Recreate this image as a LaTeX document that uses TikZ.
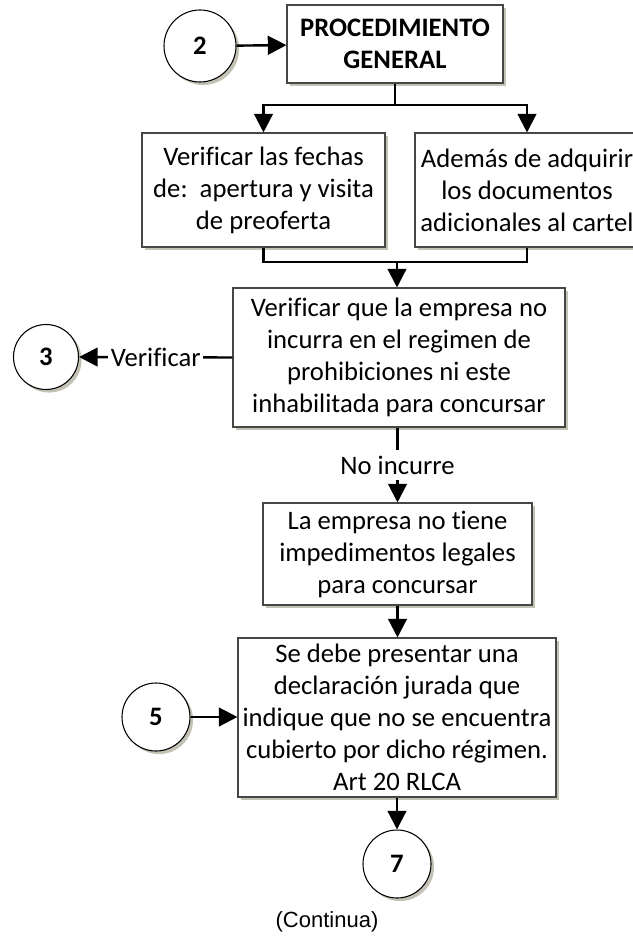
\documentclass[tikz,border=0pt]{standalone}
\usepackage{fontspec}
\setmainfont{Carlito}[Ligatures=CommonOff]
\newfontfamily\arialfont{Liberation Sans}
\usetikzlibrary{shadows,arrows.meta}
\definecolor{shadowkhaki}{RGB}{196,194,180}
\definecolor{boxline}{RGB}{70,70,70}
\tikzset{
	procbox/.style={shape=rectangle, draw=boxline, line width=0.8pt, fill=white, align=center, inner sep=0pt,
		font=\fontsize{20pt}{24pt}\selectfont,
		drop shadow={shadow xshift=2.3pt, shadow yshift=-2.3pt, fill=shadowkhaki, opacity=1}},
	connector/.style={shape=circle, draw=black, line width=0.8pt, fill=white, inner sep=0pt,
		font=\fontsize{20pt}{20pt}\selectfont\bfseries,
		drop shadow={shadow xshift=2.3pt, shadow yshift=-2.3pt, fill=shadowkhaki, opacity=1}},
	flow/.style={line width=1.8pt, -{Triangle[width=14pt, length=14pt]}},
	wire/.style={line width=1.8pt},
	flowlabel/.style={fill=white, inner sep=2pt, font=\fontsize{20pt}{20pt}\selectfont}
}
\begin{document}
\begin{tikzpicture}[x=0.75pt, y=-0.75pt]
	\useasboundingbox (0, 0) rectangle (632, 937);
	% Paths, nodes and wires:
	\node[connector, minimum size=54pt] (c2) at (200, 46){2};
	\node[procbox, minimum width=162pt, minimum height=58.5pt, font=\fontsize{20pt}{24pt}\selectfont\bfseries] (general) at (395, 44){PROCEDIMIENTO\\GENERAL};
	\node[procbox, minimum width=182.25pt, minimum height=85.5pt] (fechas) at (263.5, 190){Verificar las fechas\\de:\ \ apertura y visita\\de preoferta};
	\node[procbox, minimum width=168pt, minimum height=85.5pt] (docs) at (527, 190){Además de adquirir\\los documentos\\adicionales al cartel};
	\node[procbox, minimum width=249pt, minimum height=104.25pt] (verif) at (399, 357.5){Verificar que la empresa no\\incurra en el regimen de\\prohibiciones ni este\\inhabilitada para concursar};
	\node[connector, minimum size=48.75pt] (c3) at (46, 357){3};
	\node[procbox, minimum width=201.75pt, minimum height=76.5pt] (noimp) at (397.5, 554){La empresa no tiene\\impedimentos legales\\para concursar};
	\node[procbox, minimum width=238.5pt, minimum height=119.25pt] (decl) at (397, 717.5){Se debe presentar una\\declaración jurada que\\indique que no se encuentra\\cubierto por dicho régimen.\\Art 20 RLCA};
	\node[connector, minimum size=51pt] (c5) at (156, 717){5};
	\node[connector, minimum size=51pt] (c7) at (397, 864){7};
	\node[font=\arialfont\fontsize{16.5pt}{18pt}\selectfont] (cont) at (327, 922){(Continua)};
	\coordinate (split) at (395, 105);
	\coordinate (merge) at (397, 262);

	\draw[flow] (c2) -- (general);
	\draw[wire] (general.south) -- (split);
	\draw[flow] (split) -| (fechas.north);
	\draw[flow] (split) -| (docs.north);
	\draw[wire] (fechas.south) |- (merge);
	\draw[wire] (docs.south) |- (merge);
	\draw[flow] (merge) -- (verif.north -| merge);
	\draw[flow] (verif.west) -- node[flowlabel]{Verificar} (c3.east);
	\draw[flow] (verif.south -| noimp.north) -- node[flowlabel, inner sep=4pt]{No incurre} (noimp.north);
	\draw[flow] (noimp.south) -- (decl.north -| noimp.south);
	\draw[flow] (c5.east) -- (decl.west |- c5.east);
	\draw[flow] (decl.south) -- (c7.north);
\end{tikzpicture}
\end{document}
